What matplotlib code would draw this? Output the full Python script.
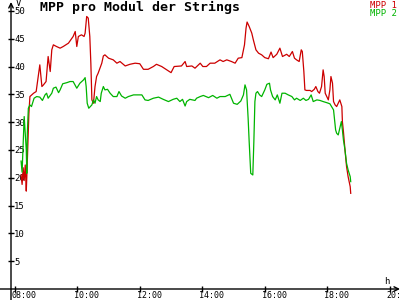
import matplotlib
matplotlib.use("Agg")
from matplotlib import pyplot as plt
from matplotlib.transforms import ScaledTranslation
import numpy as np

# minutes after 08:00 and module voltage (V)
mpp1_min = [12, 14, 16, 18, 20, 22, 23, 25, 27, 29, 36, 41, 45, 48, 52, 55, 60, 64, 68, 71,
            74, 80, 87, 93, 103, 112, 116, 119, 122, 128, 133, 135, 138, 141, 144, 146, 148, 151, 154, 157,
            160, 167, 170, 173, 180, 189, 196, 202, 212, 221, 231, 240, 247, 256, 266, 272, 282, 292, 300, 306,
            320, 327, 330, 340, 346, 356, 361, 368, 375, 384, 394, 400, 407, 416, 423, 429, 436, 441, 444, 446,
            450, 455, 458, 463, 468, 474, 480, 487, 492, 496, 503, 509, 514, 522, 527, 533, 537, 541, 546, 550,
            552, 555, 557, 560, 567, 570, 575, 578, 582, 585, 589, 592, 594, 596, 599, 602, 605, 607, 610, 612,
            615, 618, 621, 624, 628, 629, 631, 634, 637, 640, 644, 645]
mpp1_v = [20.5, 18.8, 21.8, 19.5, 22.3, 17.6, 20.0, 26.0, 31.5, 34.6, 35.2, 35.5, 38.2, 40.3, 36.4, 36.7, 37.3, 41.8, 39.1, 43.0,
          43.9, 43.6, 43.3, 43.6, 44.2, 45.4, 46.3, 43.6, 45.4, 45.7, 45.4, 46.0, 49.0, 48.7, 45.4, 40.6, 34.0, 33.4, 36.4, 38.2,
          38.8, 40.6, 41.9, 42.1, 41.5, 41.2, 40.6, 40.9, 40.1, 40.4, 40.6, 40.5, 39.5, 39.5, 40.0, 40.4, 40.0, 39.4, 38.9, 40.0,
          40.1, 40.9, 40.0, 40.1, 39.7, 40.6, 40.0, 40.0, 40.6, 40.6, 41.2, 40.9, 41.2, 40.9, 40.6, 41.5, 41.6, 43.9, 46.9, 48.0,
          47.2, 46.0, 44.8, 43.0, 42.4, 42.1, 41.6, 41.4, 42.6, 41.6, 42.2, 43.3, 41.8, 42.2, 41.8, 42.7, 41.5, 41.2, 40.9, 43.0,
          42.7, 39.1, 35.8, 35.7, 35.7, 35.5, 35.9, 36.4, 35.5, 35.2, 36.4, 39.4, 38.2, 35.2, 34.6, 34.0, 35.8, 38.2, 37.0, 33.7,
          33.1, 32.8, 33.4, 34.0, 32.8, 30.1, 28.3, 25.0, 22.0, 20.2, 18.4, 17.2]

mpp2_min = [12, 14, 16, 18, 20, 22, 23, 24, 26, 29, 32, 37, 42, 48, 53, 58, 61, 64, 71, 74,
            79, 84, 87, 92, 100, 106, 112, 119, 125, 132, 135, 137, 139, 142, 148, 151, 154, 157, 160, 164,
            166, 170, 173, 178, 183, 189, 196, 200, 205, 212, 218, 228, 244, 250, 256, 266, 276, 285, 295, 304,
            311, 317, 322, 327, 330, 336, 346, 349, 356, 362, 372, 380, 388, 394, 404, 413, 420, 427, 434, 439,
            442, 445, 448, 450, 453, 457, 459, 461, 463, 466, 470, 474, 480, 484, 489, 491, 495, 500, 504, 509,
            513, 519, 525, 532, 537, 541, 548, 554, 559, 564, 569, 573, 580, 586, 592, 599, 605, 612, 614, 616,
            618, 621, 624, 627, 629, 631, 634, 637, 640, 644, 645]
mpp2_v = [23.0, 21.0, 26.0, 31.0, 28.0, 25.0, 20.8, 28.0, 32.5, 33.1, 32.8, 34.3, 34.6, 34.5, 33.9, 34.9, 35.2, 34.3, 35.2, 36.1,
          36.3, 35.3, 35.8, 36.9, 37.1, 37.3, 37.3, 36.1, 37.0, 37.6, 38.0, 36.4, 33.4, 32.5, 33.1, 34.0, 33.4, 34.6, 34.0, 33.7,
          35.2, 36.4, 35.8, 35.9, 35.2, 34.6, 34.6, 35.5, 34.7, 34.3, 34.6, 34.9, 34.9, 34.0, 33.9, 34.3, 34.5, 34.1, 33.7, 34.1,
          34.3, 33.7, 34.1, 32.9, 33.7, 34.1, 33.9, 34.3, 34.6, 34.8, 34.4, 34.8, 34.3, 34.6, 34.6, 35.0, 33.4, 33.2, 33.8, 34.9,
          36.7, 35.8, 30.7, 26.5, 20.8, 20.5, 26.5, 33.7, 35.2, 35.5, 34.9, 34.6, 35.8, 36.8, 37.0, 35.8, 34.6, 34.0, 34.9, 33.4,
          35.2, 35.2, 34.9, 34.6, 34.0, 34.3, 33.9, 34.3, 33.9, 34.1, 34.9, 33.7, 34.0, 33.9, 33.7, 33.5, 33.3, 32.2, 30.4, 28.6,
          28.0, 27.7, 28.9, 30.1, 28.6, 26.8, 25.0, 22.6, 21.4, 20.2, 19.3]

y_ticks = [5, 10, 15, 20, 25, 30, 35, 40, 45, 50]
x_ticks = [8, 10, 12, 14, 16, 18, 20]
x_labels = ["08:00", "10:00", "12:00", "14:00", "16:00", "18:00", "20:"]

red = "#cc0000"
green = "#00b400"
font = "DejaVu Sans Mono"

fig = plt.figure(figsize=(4, 3), dpi=100)
ax = fig.add_axes([11 / 400, 11 / 300, 389 / 400, 287 / 300])

ax.plot(8 + np.array(mpp1_min) / 60, mpp1_v, color=red, lw=0.9)
ax.plot(8 + np.array(mpp2_min) / 60, mpp2_v, color=green, lw=0.9)

ax.set_xlim(7.878, 20.327)
ax.set_ylim(0, 51.6)

for s in ax.spines.values():
	s.set_visible(False)

# axes drawn as arrows crossing each other
ax.annotate("", xy=(1.0, 0), xytext=(-0.03, 0), xycoords="axes fraction",
            arrowprops=dict(arrowstyle="->", lw=1.0, color="black", shrinkA=0, shrinkB=0,
                            mutation_scale=8), annotation_clip=False)
ax.annotate("", xy=(0, 1.0), xytext=(0, -0.04), xycoords="axes fraction",
            arrowprops=dict(arrowstyle="->", lw=1.0, color="black", shrinkA=0, shrinkB=0,
                            mutation_scale=8), annotation_clip=False)

ax.set_xticks(x_ticks)
ax.set_xticklabels(x_labels, fontsize=6, family=font, ha="left")
ax.set_yticks(y_ticks)
ax.set_yticklabels([str(v) for v in y_ticks], fontsize=6.5, family=font, ha="left")
ax.tick_params(direction="inout", length=5, width=1, pad=1)
ax.tick_params(axis="x", pad=0)

for lbl in ax.get_xticklabels():
	lbl.set_transform(lbl.get_transform() + ScaledTranslation(-3 / 100, 1 / 100, fig.dpi_scale_trans))
for lbl in ax.get_yticklabels():
	lbl.set_transform(lbl.get_transform() + ScaledTranslation(8 / 100, 0, fig.dpi_scale_trans))

fig.text(40 / 400, 1 - 7 / 300, "MPP pro Modul der Strings", fontsize=9.5, family=font,
         fontweight="bold", ha="left", va="center")
fig.text(397 / 400, 1 - 5 / 300, "MPP 1", color=red, fontsize=6.5, family=font, ha="right", va="center")
fig.text(397 / 400, 1 - 13 / 300, "MPP 2", color=green, fontsize=6.5, family=font, ha="right", va="center")
fig.text(18 / 400, 1 - 3 / 300, "V", fontsize=6.5, family=font, ha="center", va="center")
fig.text(387 / 400, 1 - 281 / 300, "h", fontsize=6.5, family=font, ha="center", va="center")

fig.savefig("out.png", dpi=100)
